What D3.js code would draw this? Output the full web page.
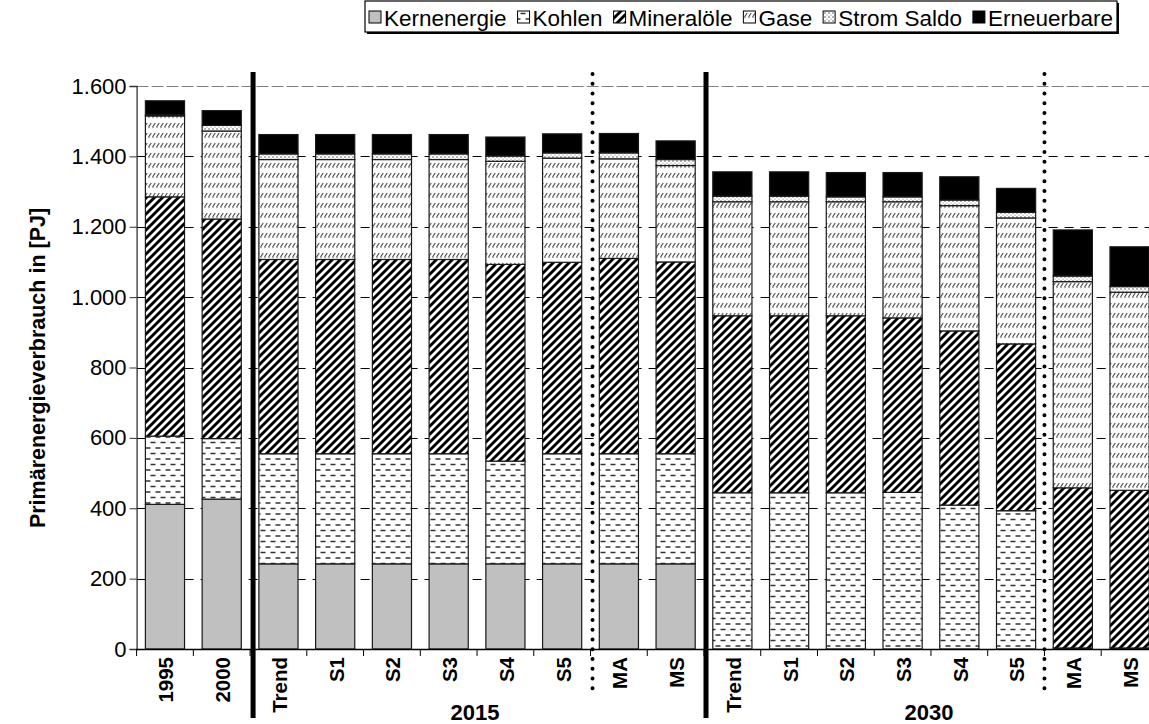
<!DOCTYPE html>
<html>
<head>
<meta charset="utf-8">
<script src="https://cdn.jsdelivr.net/npm/d3@7"></script>
<style>
  html, body { margin: 0; padding: 0; background: #fff; }
  svg { display: block; font-family: Arial, "Liberation Sans", sans-serif; }
</style>
</head>
<body>
<svg id="chart" width="1149" height="724"></svg>
<script>
// ---------- DATA ----------
const categories = ["1995","2000",
  "2015-Trend","2015-S1","2015-S2","2015-S3","2015-S4","2015-S5","2015-MA","2015-MS",
  "2030-Trend","2030-S1","2030-S2","2030-S3","2030-S4","2030-S5","2030-MA","2030-MS"];
const tickLabels = ["1995","2000","Trend","S1","S2","S3","S4","S5","MA","MS",
  "Trend","S1","S2","S3","S4","S5","MA","MS"];
const groupLabels = ["2015","2030"];
const seriesNames = ["Kernenergie","Kohlen","Mineralöle","Gase","Strom Saldo","Erneuerbare"];

const kernenergie = [411,426, 242,242,242,242,242,242,242,242, 0,0,0,0,0,0,0,0];
const kohlen      = [194,172, 313,313,313,313,292,313,313,313, 444,444,444,445,409,393,3,3];
const mineraloele = [680,624, 552,552,552,552,559,544,555,545, 503,503,503,496,495,474,455,448];
const gase        = [230,250, 284,284,284,284,293,296,283,274, 324,324,324,330,356,358,586,563];
const stromSaldo  = [3,16, 16,16,16,16,15,15,17,17, 16,16,14,14,16,16,16,16];
const erneuerbare = [40,42, 55,55,55,55,54,54,55,53, 69,69,69,69,66,68,131,113];

const yTicks = [0,200,400,600,800,1000,1200,1400,1600];

// ---------- SETUP ----------
const svg = d3.select("#chart");
const W = 1149, H = 724;
const plotTop = 86, plotBottom = 649, plotLeft = 136.6;
const step = 56.74;

const table = categories.map((c, i) => ({
  key: c,
  "Kernenergie": kernenergie[i],
  "Kohlen": kohlen[i],
  "Mineralöle": mineraloele[i],
  "Gase": gase[i],
  "Strom Saldo": stromSaldo[i],
  "Erneuerbare": erneuerbare[i]
}));

const x = d3.scaleBand().domain(categories)
  .range([plotLeft, plotLeft + step * categories.length])
  .paddingInner(0.31).paddingOuter(0.155);
const y = d3.scaleLinear().domain([0, 1600]).range([plotBottom, plotTop]);

const de = d3.formatLocale({decimal: ",", thousands: ".", grouping: [3], currency: ["", " €"]});
const fmt = de.format(",");

// ---------- PATTERNS ----------
const defs = svg.append("defs");
// Kohlen: staggered short dashes
const pK = defs.append("pattern").attr("id","pKohlen").attr("patternUnits","userSpaceOnUse")
  .attr("width",10).attr("height",11);
pK.append("rect").attr("width",10).attr("height",11).attr("fill","#fff");
pK.append("path").attr("d","M0.5,2.5H5.5M5.5,8H10.5M-4.5,8H0.5")
  .attr("stroke","#333").attr("stroke-width",1.3);
// Mineralöle: thick diagonal stripes
const pM = defs.append("pattern").attr("id","pMineral").attr("patternUnits","userSpaceOnUse")
  .attr("width",8).attr("height",8);
pM.append("rect").attr("width",8).attr("height",8).attr("fill","#fff");
pM.append("path").attr("d","M-2,2L2,-2M0,8L8,0M6,10L10,6")
  .attr("stroke","#000").attr("stroke-width",2.9);
// Gase: rows of small slashes
const pG = defs.append("pattern").attr("id","pGase").attr("patternUnits","userSpaceOnUse")
  .attr("width",4).attr("height",10);
pG.append("rect").attr("width",4).attr("height",10).attr("fill","#fff");
pG.append("path").attr("d","M0.6,7L3.2,3").attr("stroke","#444").attr("stroke-width",1.1);
pG.append("circle").attr("cx",1).attr("cy",7.6).attr("r",0.6).attr("fill","#555");
// Strom Saldo: dots
const pS = defs.append("pattern").attr("id","pStrom").attr("patternUnits","userSpaceOnUse")
  .attr("width",4).attr("height",4);
pS.append("rect").attr("width",4).attr("height",4).attr("fill","#fff");
pS.append("circle").attr("cx",1).attr("cy",1).attr("r",0.7).attr("fill","#333");
pS.append("circle").attr("cx",3).attr("cy",3).attr("r",0.5).attr("fill","#555");

const fills = {
  "Kernenergie": "#c0c0c0",
  "Kohlen": "url(#pKohlen)",
  "Mineralöle": "url(#pMineral)",
  "Gase": "url(#pGase)",
  "Strom Saldo": "url(#pStrom)",
  "Erneuerbare": "#000"
};

// ---------- GRIDLINES ----------
svg.append("g").selectAll("line").data(yTicks.filter(t => t > 0)).join("line")
  .attr("x1", plotLeft).attr("x2", W)
  .attr("y1", d => Math.round(y(d)) + 0.5).attr("y2", d => Math.round(y(d)) + 0.5)
  .attr("stroke", d => d === 1600 ? "#808080" : "#000")
  .attr("stroke-width", 1)
  .attr("stroke-dasharray", d => d === 1600 ? "12,3" : "9,7");

// ---------- BARS ----------
const stacked = d3.stack().keys(seriesNames)(table);
const layers = svg.append("g").selectAll("g").data(stacked).join("g")
  .attr("fill", d => fills[d.key]);
layers.selectAll("rect").data(d => d.filter(p => p[1] - p[0] > 0)).join("rect")
  .attr("x", d => x(d.data.key))
  .attr("width", x.bandwidth())
  .attr("y", d => y(d[1]))
  .attr("height", d => y(d[0]) - y(d[1]))
  .attr("stroke", "#1a1a1a")
  .attr("stroke-width", 1.2);

// ---------- AXES ----------
const yAxis = d3.axisLeft(y).tickValues(yTicks).tickFormat(fmt).tickSize(7).tickPadding(3);
const gy = svg.append("g").attr("transform", `translate(${plotLeft},0)`).call(yAxis);
gy.select(".domain").attr("stroke", "#333").attr("stroke-width", 1.3);
gy.selectAll(".tick line").attr("stroke", "#333");
gy.selectAll(".tick text").attr("font-size", 22).attr("fill", "#000")
  .attr("font-family", "Arial, 'Liberation Sans', sans-serif");

// x axis line and boundary ticks
svg.append("line").attr("x1", plotLeft).attr("x2", W)
  .attr("y1", plotBottom + 0.5).attr("y2", plotBottom + 0.5)
  .attr("stroke", "#000").attr("stroke-width", 1.3);
const boundaries = categories.map((c, i) => x(c) - x.step() * x.paddingInner() / 2);
svg.append("g").selectAll("line").data(boundaries).join("line")
  .attr("x1", d => d).attr("x2", d => d)
  .attr("y1", plotBottom).attr("y2", plotBottom + 7)
  .attr("stroke", "#000").attr("stroke-width", 1);

// x tick labels (rotated)
svg.append("g").selectAll("text").data(categories).join("text")
  .attr("transform", (d) => `translate(${x(d) + x.bandwidth() / 2 + 1},657) rotate(-90)`)
  .attr("text-anchor", "end")
  .attr("dy", "0.36em")
  .attr("font-size", 20.5).attr("font-weight", "bold")
  .text((d, i) => tickLabels[i]);

// group labels
const groupSpans = [["2015-Trend","2015-MS"],["2030-Trend","2030-MS"]];
svg.append("g").selectAll("text").data(groupSpans).join("text")
  .attr("x", d => (x(d[0]) + x(d[1]) + x.bandwidth()) / 2 - 2)
  .attr("y", 720)
  .attr("text-anchor", "middle")
  .attr("font-size", 22).attr("font-weight", "bold")
  .text((d, i) => groupLabels[i]);

// ---------- SEPARATORS ----------
const thickAt = [boundaries[2] + 3, boundaries[10] + 2];
svg.append("g").selectAll("line").data(thickAt).join("line")
  .attr("x1", d => d).attr("x2", d => d).attr("y1", 72).attr("y2", 718)
  .attr("stroke", "#000").attr("stroke-width", 5);
const dottedAt = [boundaries[8] + 2, boundaries[16]];
svg.append("g").selectAll("line").data(dottedAt).join("line")
  .attr("x1", d => d).attr("x2", d => d).attr("y1", 74).attr("y2", 690)
  .attr("stroke", "#000").attr("stroke-width", 4)
  .attr("stroke-linecap", "round").attr("stroke-dasharray", "0,9.75");

// ---------- Y TITLE ----------
svg.append("text")
  .attr("transform", "translate(37,368) rotate(-90)")
  .attr("text-anchor", "middle").attr("dy", "0.36em")
  .attr("font-size", 21.5).attr("font-weight", "bold")
  .text("Primärenergieverbrauch in [PJ]");

// ---------- LEGEND ----------
const legL = 365, legR = 1117, legT = 1, legB = 32;
const leg = svg.append("g");
leg.append("rect").attr("x", legL + 2).attr("y", legT + 2).attr("width", legR - legL).attr("height", legB - legT)
  .attr("fill", "#000");
leg.append("rect").attr("x", legL).attr("y", legT).attr("width", legR - legL).attr("height", legB - legT)
  .attr("fill", "#fff").attr("stroke", "#000").attr("stroke-width", 1.2);
const items = leg.selectAll("g.item").data(seriesNames).join("g").attr("class", "item");
items.append("rect").attr("class", "sw").attr("width", 12).attr("height", 12)
  .attr("fill", d => fills[d]).attr("stroke", "#000").attr("stroke-width", 1);
items.append("text").attr("font-size", 22.5).attr("y", 26).text(d => d);
// layout
const widths = [];
items.select("text").each(function () { widths.push(this.getComputedTextLength()); });
const swW = 12, swGap = 3;
const totalText = d3.sum(widths) + seriesNames.length * (swW + swGap);
const startX = 369, endX = 1113;
const gap = (endX - startX - totalText) / (seriesNames.length - 1);
let cx = startX;
items.each(function (d, i) {
  const g = d3.select(this);
  g.select("rect.sw").attr("x", cx).attr("y", 11);
  g.select("text").attr("x", cx + swW + swGap);
  cx += swW + swGap + widths[i] + gap;
});
</script>
</body>
</html>
